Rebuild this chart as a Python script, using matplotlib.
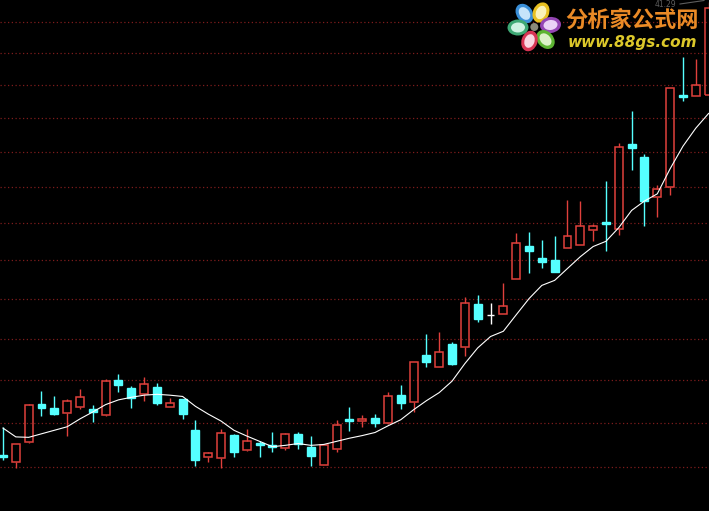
import numpy as np
import matplotlib
matplotlib.use("Agg")
from matplotlib import pyplot as plt
from matplotlib.patches import Rectangle, Ellipse, Circle

# daily candles (price units), oldest first
opens  = [25.28, 25.13, 25.56, 26.44, 26.34, 26.22, 26.36, 26.32, 26.17, 27.00,
          26.81, 26.66, 26.83, 26.37, 26.55, 25.84, 25.22, 25.20, 25.72, 25.39,
          25.54, 25.49, 25.42, 25.75, 25.46, 25.06, 25.40, 26.09, 26.05, 26.10,
          25.99, 26.65, 26.47, 27.60, 27.30, 27.87, 27.79, 28.86, 28.58, 28.60,
          29.50, 30.38, 30.06, 30.00, 30.32, 30.40, 30.81, 31.03, 30.83, 33.23,
          32.84, 31.71, 32.00, 34.69, 34.67, 34.69]
highs  = [25.91, 25.52, 26.44, 26.74, 26.62, 26.55, 26.79, 26.41, 27.02, 27.14,
          26.85, 27.08, 26.92, 26.57, 26.56, 26.06, 25.34, 25.85, 25.75, 25.87,
          25.59, 25.79, 25.76, 25.79, 25.70, 25.49, 26.06, 26.37, 26.18, 26.20,
          26.71, 26.88, 27.43, 28.11, 28.16, 27.92, 29.05, 29.09, 28.88, 29.41,
          30.72, 30.76, 30.54, 30.63, 31.63, 31.59, 30.96, 32.15, 33.25, 34.21,
          32.92, 32.05, 34.90, 35.86, 35.80, 37.65]
lows   = [25.16, 24.98, 25.55, 26.16, 26.19, 25.69, 26.31, 26.02, 26.16, 26.71,
          26.33, 26.51, 26.42, 26.37, 26.09, 25.04, 25.11, 24.99, 25.24, 25.37,
          25.22, 25.35, 25.39, 25.40, 25.03, 25.06, 25.34, 25.82, 25.91, 25.91,
          25.98, 26.31, 26.24, 27.32, 27.30, 27.35, 27.58, 28.40, 28.36, 28.60,
          29.50, 29.66, 29.80, 29.68, 30.32, 30.40, 30.52, 30.25, 30.67, 32.46,
          30.91, 31.17, 31.77, 34.49, 34.67, 34.69]
closes = [25.23, 25.52, 26.41, 26.35, 26.21, 26.50, 26.59, 26.26, 26.97, 26.88,
          26.57, 26.90, 26.46, 26.46, 26.21, 25.16, 25.31, 25.76, 25.35, 25.59,
          25.49, 25.45, 25.75, 25.52, 25.25, 25.49, 25.96, 26.04, 26.08, 25.99,
          26.62, 26.45, 27.42, 27.44, 27.67, 27.38, 28.88, 28.48, 28.58, 28.81,
          30.45, 30.23, 29.96, 29.70, 30.63, 30.92, 30.92, 30.97, 33.15, 33.12,
          31.59, 31.93, 34.89, 34.64, 34.99, 37.45]
ma     = [25.88, 25.68, 25.67, 25.75, 25.83, 25.91, 26.09, 26.25, 26.42, 26.53,
          26.59, 26.64, 26.66, 26.64, 26.61, 26.38, 26.20, 26.04, 25.83, 25.70,
          25.58, 25.46, 25.49, 25.53, 25.49, 25.51, 25.58, 25.65, 25.71, 25.78,
          25.93, 26.07, 26.30, 26.51, 26.70, 26.97, 27.39, 27.77, 28.05, 28.18,
          28.59, 29.00, 29.34, 29.47, 29.78, 30.09, 30.36, 30.50, 30.87, 31.34,
          31.60, 31.80, 32.51, 33.16, 33.69, 34.13]
grid_prices = [25, 26, 27, 28, 29, 30, 31, 32, 33, 34, 35, 36, 37]
max_label = "41.29"

RED = "#e0403c"; CYAN = "#55ffff"

fig = plt.figure(figsize=(7.09, 5.11), dpi=100, facecolor="black")
ax = fig.add_axes([0, 0, 1, 1], facecolor="black")
ax.set_yscale("log")
ax.set_ylim(24.06, 37.71)
ax.set_xlim(-0.234, 55.03)
ax.set_yticks(grid_prices)
ax.minorticks_off()
ax.grid(axis="y", color="#7e1c1c", linestyle=(0, (1, 2)), linewidth=0.9)
ax.tick_params(left=False, bottom=False, labelleft=False, labelbottom=False)
for s in ax.spines.values():
    s.set_visible(False)

w = 0.62
for i in range(len(opens)):
    o, h, l, c = opens[i], highs[i], lows[i], closes[i]
    if c > o:
        ax.vlines(i, l, o, color=RED, lw=1)
        ax.vlines(i, c, h, color=RED, lw=1)
        ax.add_patch(Rectangle((i - w/2, o), w, c - o, fill=False,
                               edgecolor=RED, lw=1.1, zorder=3))
    elif c < o:
        ax.vlines(i, l, h, color=CYAN, lw=1)
        ax.add_patch(Rectangle((i - w/2, c), w, o - c, facecolor=CYAN,
                               edgecolor=CYAN, lw=1, zorder=3))
    else:
        ax.vlines(i, l, h, color="white", lw=1)
        ax.hlines(o, i - w/2, i + w/2, color="white", lw=1)

ax.plot(range(len(ma)), ma, color="white", lw=0.8, zorder=4)

# logo overlay, pixel coords
lg = fig.add_axes([0, 0, 1, 1])
lg.set_xlim(0, 709); lg.set_ylim(511, 0); lg.axis("off")
lg.patch.set_alpha(0)
cx, cy = 534.3, 27.0
petals = [((524.5, 13.5), "#3a8fd8", "#c6e4fa"),
          ((541, 12.5), "#e8c020", "#faf2b8"),
          ((550.5, 25.0), "#9446b4", "#ead2f6"),
          ((545.5, 39.5), "#5cb432", "#dcf2c8"),
          ((529.5, 41.0), "#d83454", "#fad6e2"),
          ((518, 27.5), "#3ea874", "#cef2e2")]
for (px, py), outer, inner in petals:
    ang = np.degrees(np.arctan2(py - cy, px - cx))
    lg.add_patch(Ellipse((px, py), 21, 16, angle=ang, facecolor=outer, edgecolor="none"))
    lg.add_patch(Ellipse((px, py), 14, 10, angle=ang, facecolor=inner, edgecolor="none"))
lg.add_patch(Circle((cx, cy), 4, facecolor="#8a8a7a", edgecolor="none"))
lg.text(655, 4.5, max_label, color="#5e5e5e", fontsize=5.5, ha="left", va="center")
lg.plot([680, 704], [4, 0.5], color="#5e5e5e", lw=0.8)
lg.text(632, 20.5, "分析家公式网", color="#ea8a26", fontsize=16, fontweight="bold",
        family=["Noto Sans CJK SC", "DejaVu Sans"], ha="center", va="center")
lg.text(632, 43, "www.88gs.com", color="#dcc82a", fontsize=11, fontweight="bold",
        style="italic", family="DejaVu Sans", ha="center", va="center")

fig.savefig("out.png", dpi=100, facecolor="black")
